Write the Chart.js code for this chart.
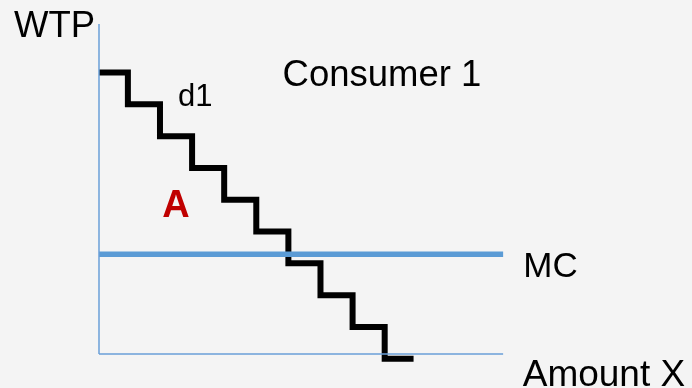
<!DOCTYPE html>
<html>
<head>
<meta charset="utf-8">
<title>Consumer 1 – WTP and MC</title>
<script src="https://cdn.jsdelivr.net/npm/chart.js@4.4.1/dist/chart.umd.min.js"></script>
<style>
  html, body { margin: 0; padding: 0; background: #f4f4f4; }
  #wrap { width: 692px; height: 388px; }
</style>
</head>
<body>
<div id="wrap"><canvas id="c" width="692" height="388"></canvas></div>
<script>
// Demand steps of consumer 1: quantity where each step begins, and the WTP level
const stepQty = [0, 0.9, 1.9, 2.9, 3.9, 4.9, 5.9, 6.9, 7.9, 8.9, 9.8];
const stepWtp = [8.85, 7.85, 6.85, 5.85, 4.85, 3.85, 2.85, 1.85, 0.85, -0.15, -0.15];

// Marginal cost (flat)
const mcValue = 3.14;
const mcQty = [0, 12.59];

// Axis extents
const axisXMax = 12.59;
const axisYMax = 10.38;

// Text drawn on the chart
const labelTexts = ['WTP', 'Consumer 1', 'd1', 'A', 'MC', 'Amount X'];

const blue = '#5b9bd5';
const axisBlue = '#6a9fd8';

const demandPoints = stepQty.map((q, i) => ({ x: q, y: stepWtp[i] }));
const mcPoints = mcQty.map(q => ({ x: q, y: mcValue }));
const yAxisPoints = [{ x: 0, y: 0 }, { x: 0, y: axisYMax }];
const xAxisPoints = [{ x: 0, y: 0 }, { x: axisXMax, y: 0 }];

const FONT = '"Liberation Sans", Arial, sans-serif';

// Where each label sits, in value units (anchor x, baseline y)
const labelStyle = [
  { x: -0.12, y: 9.96, align: 'right', font: '36.5px ' + FONT, color: '#000' },
  { x: 5.72,  y: 8.43, align: 'left',  font: '36.5px ' + FONT, color: '#000' },
  { x: 2.46,  y: 7.80, align: 'left',  font: '31px ' + FONT, color: '#000' },
  { x: 1.97,  y: 4.31, align: 'left',  font: 'bold 38px ' + FONT, color: '#c00000' },
  { x: 13.22, y: 2.42, align: 'left',  font: '35px ' + FONT, color: '#000' },
  { x: 13.20, y: -1.0, align: 'left',  font: '37px ' + FONT, color: '#000' }
];

const labelPlugin = {
  id: 'labels',
  afterDatasetsDraw(chart) {
    const { ctx, scales } = chart;
    ctx.save();
    ctx.textBaseline = 'alphabetic';
    labelTexts.forEach((t, i) => {
      const s = labelStyle[i];
      ctx.font = s.font;
      ctx.fillStyle = s.color;
      ctx.textAlign = s.align;
      ctx.fillText(t, scales.x.getPixelForValue(s.x), scales.y.getPixelForValue(s.y));
    });
    ctx.restore();
  }
};

const bgPlugin = {
  id: 'bg',
  beforeDraw(chart) {
    const { ctx, width, height } = chart;
    ctx.save();
    ctx.fillStyle = '#f4f4f4';
    ctx.fillRect(0, 0, width, height);
    ctx.restore();
  }
};

new Chart(document.getElementById('c'), {
  type: 'line',
  data: {
    datasets: [
      { data: yAxisPoints, borderColor: axisBlue, borderWidth: 1.5, pointRadius: 0, clip: false },
      { data: xAxisPoints, borderColor: axisBlue, borderWidth: 1.5, pointRadius: 0, clip: false },
      { data: mcPoints, borderColor: blue, borderWidth: 5.5, pointRadius: 0, clip: false },
      { data: demandPoints, borderColor: '#000', borderWidth: 6, pointRadius: 0,
        stepped: 'before', borderJoinStyle: 'miter', borderCapStyle: 'butt', clip: false }
    ]
  },
  options: {
    responsive: false,
    devicePixelRatio: 1,
    animation: false,
    layout: { padding: 0 },
    plugins: { legend: { display: false }, tooltip: { enabled: false } },
    scales: {
      x: { type: 'linear', display: false, min: -3.084, max: 18.474 },
      y: { type: 'linear', display: false, min: -1.069, max: 11.132 }
    }
  },
  plugins: [bgPlugin, labelPlugin]
});
</script>
</body>
</html>
